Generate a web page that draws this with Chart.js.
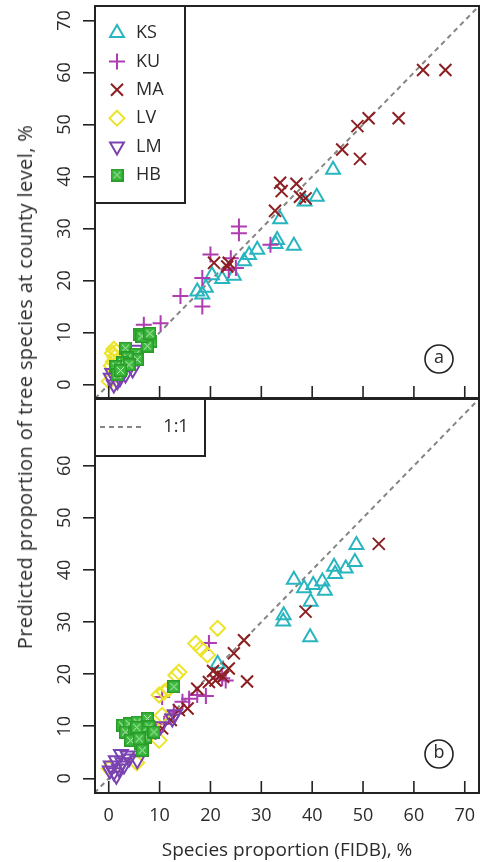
<!DOCTYPE html>
<html>
<head>
<meta charset="utf-8">
<script src="https://cdn.jsdelivr.net/npm/chart.js@4.4.1/dist/chart.umd.min.js"></script>
<style>
  html, body { margin: 0; padding: 0; background: #fff; }
  #wrap { position: relative; width: 480px; height: 862px; overflow: hidden; }
  #ca { position: absolute; left: 0; top: 0; }
  #cb { position: absolute; left: 0; top: 398px; }
  #ytitle {
    position: absolute; left: 25px; top: 387px;
    transform: translate(-50%, -50%) rotate(-90deg);
    white-space: nowrap; font: 20px "Open Sans"; letter-spacing: 0.4px; line-height: 20px; color: #2b2b2b;
  }
</style>
</head>
<body>
<div id="wrap">
  <canvas id="ca" width="480" height="400"></canvas>
  <canvas id="cb" width="480" height="464"></canvas>
  <div id="ytitle">Predicted proportion of tree species at county level, %</div>
</div>
<script>
// tick labels
var xTicks = [0, 10, 20, 30, 40, 50, 60, 70];
var yTicksA = [0, 10, 20, 30, 40, 50, 60, 70];
var yTicksB = [0, 10, 20, 30, 40, 50, 60];

// panel (a): [FIDB %, predicted %]
var KS_A = [[44.1,41.3],[40.9,36.1],[38.5,35.2],[33.7,31.8],[33.1,27.8],[32.8,27.0],[36.4,26.7],[29.2,25.9],
  [27.6,24.9],[26.6,23.7],[24.6,20.9],[22.3,20.3],[20.3,21.0],[19.1,18.6],[17.4,17.9],[18.4,17.3]];
var KU_A = [[25.6,30.4],[25.6,29.1],[20.0,25.0],[24.0,24.3],[18.4,20.5],[14.1,17.0],[18.4,15.0],[25.0,22.4],
  [31.8,26.9],[10.2,11.8],[6.9,11.5],[23.6,22.0]];
var MA_A = [[61.8,60.5],[66.2,60.5],[48.9,49.7],[51.1,51.2],[57.0,51.2],[45.9,45.2],[49.4,43.4],[33.7,38.8],
  [34.0,37.2],[36.9,38.6],[37.6,36.1],[38.7,35.8],[32.7,33.4],[20.7,23.4],[23.3,22.7],[23.6,23.4]];
var LV_A = [[1.0,6.8],[0.7,6.0],[1.2,5.3],[0.9,4.4],[1.5,6.3],[0.1,0.6],[0.5,3.6]];
var LM_A = [[0.4,1.3],[1.0,0.0],[1.7,0.6],[3.3,1.9],[4.7,2.9],[0.7,2.2],[5.3,6.7],[2.2,1.2],[3.0,3.0]];
var HB_A = [[6.0,9.6],[7.9,9.0],[8.3,8.3],[7.6,7.4],[3.3,7.0],[5.3,5.8],[5.6,4.8],[3.7,5.1],[2.7,4.2],
  [1.4,3.5],[4.0,3.8],[1.7,1.9],[6.5,9.3],[8.1,9.8],[2.3,2.7]];

// panel (b)
var KS_B = [[48.7,44.8],[48.4,41.5],[46.6,40.3],[44.3,40.6],[44.5,39.2],[42.0,37.8],[42.5,36.0],[40.2,37.1],
  [38.4,36.5],[36.4,38.1],[39.7,33.9],[34.4,31.3],[34.3,30.1],[39.6,27.1],[21.4,22.0]];
var KU_B = [[19.7,26.0],[23.0,18.8],[22.3,19.2],[17.4,16.0],[15.8,15.3],[19.1,15.8],[12.8,12.8],[10.9,10.5],
  [9.2,8.9],[10.5,15.6],[14.5,14.7]];
var MA_B = [[53.1,45.0],[38.7,32.0],[26.6,26.5],[24.6,24.0],[23.6,21.1],[27.2,18.6],[21.4,20.1],[21.0,18.8],
  [19.7,18.5],[17.4,17.2],[15.5,13.4],[13.8,13.1],[12.2,11.2],[10.5,9.6],[20.5,20.6],[22.5,19.5]];
var LV_B = [[21.4,28.8],[17.1,25.9],[18.1,24.9],[19.4,23.7],[13.8,20.4],[13.2,19.8],[9.9,16.0],[10.9,16.6],
  [9.9,7.3],[10.5,12.1],[5.5,3.0],[0.1,1.9],[11.8,17.2],[8.5,10.2]];
var LM_B = [[2.4,4.7],[3.7,4.4],[1.4,3.5],[0.4,2.5],[1.0,1.2],[2.0,1.9],[0.2,1.5],[2.7,3.1],[4.0,3.8],
  [5.6,3.5],[12.5,11.5],[13.0,12.3],[1.5,0.5],[3.0,2.5],[10.2,10.0]];
var HB_B = [[2.7,10.2],[4.0,10.5],[5.6,10.8],[7.6,11.5],[7.9,9.9],[3.3,8.9],[5.0,8.6],[6.6,8.9],[4.3,7.3],
  [6.3,6.7],[6.6,5.4],[7.3,7.9],[8.9,8.9],[12.8,17.6],[5.5,9.8],[6.0,7.6]];

var X_MIN = -2.7, X_MAX = 72.8;
var FONT = '"Open Sans", "DejaVu Sans", sans-serif';
var INK = '#2b2b2b';

function hbMarker() {
  var c = document.createElement('canvas');
  c.width = 13; c.height = 13;
  var g = c.getContext('2d');
  g.fillStyle = '#3dba3d';
  g.fillRect(0, 0, 13, 13);
  g.strokeStyle = '#2a9a2a'; g.lineWidth = 1.5;
  g.strokeRect(0.75, 0.75, 11.5, 11.5);
  g.strokeStyle = '#c4ecc4'; g.lineWidth = 1;
  g.beginPath();
  g.moveTo(3, 3); g.lineTo(10, 10); g.moveTo(10, 3); g.lineTo(3, 10);
  g.stroke();
  return c;
}
var HB_STYLE = hbMarker();

function pts(arr) { return arr.map(function (p) { return { x: p[0], y: p[1] }; }); }

function speciesSets(ks, ku, ma, lv, lm, hb) {
  var none = 'rgba(0,0,0,0)';
  return [
    { label: 'KS', data: pts(ks), pointStyle: 'triangle', pointRadius: 8, borderColor: '#29b5bf', backgroundColor: none, borderWidth: 2, order: 6 },
    { label: 'KU', data: pts(ku), pointStyle: 'cross', pointRadius: 8, borderColor: '#b03cb2', backgroundColor: none, borderWidth: 2, order: 5 },
    { label: 'MA', data: pts(ma), pointStyle: 'crossRot', pointRadius: 8.5, borderColor: '#8c1f22', backgroundColor: none, borderWidth: 2, order: 4 },
    { label: 'LV', data: pts(lv), pointStyle: 'rectRot', pointRadius: 7.5, borderColor: '#ece42a', backgroundColor: none, borderWidth: 2, order: 3 },
    { label: 'LM', data: pts(lm), pointStyle: 'triangle', pointRotation: 180, pointRadius: 8, borderColor: '#7b42b2', backgroundColor: none, borderWidth: 2, order: 2 },
    { label: 'HB', data: pts(hb), pointStyle: HB_STYLE, pointRadius: 7, borderColor: '#3dba3d', backgroundColor: '#3dba3d', borderWidth: 1, order: 1 }
  ];
}

function diagonal(ymin) {
  var lo = Math.min(X_MIN, ymin);
  return {
    label: '1:1', data: [{ x: lo, y: lo }, { x: X_MAX, y: X_MAX }],
    showLine: true, pointRadius: 0, borderColor: '#858585', borderWidth: 2, borderDash: [5, 4], order: 10, isRef: true
  };
}

// frame, inward x ticks, panel letter, in-plot legend
var decor = {
  id: 'decor',
  afterDatasetsDraw: function (chart, args, o) {
    var ctx = chart.ctx, a = chart.chartArea, x = chart.scales.x;
    ctx.save();
    ctx.strokeStyle = '#222';
    ctx.lineWidth = 2;
    ctx.strokeRect(a.left, a.top, a.right - a.left, a.bottom - a.top);
    ctx.lineWidth = 1.6;
    xTicks.forEach(function (v) {
      var px = x.getPixelForValue(v);
      ctx.beginPath(); ctx.moveTo(px, a.bottom); ctx.lineTo(px, a.bottom - 12); ctx.stroke();
    });
    // panel letter
    var cx = a.right - 40, cy = a.bottom - 39;
    ctx.lineWidth = 1.6;
    ctx.beginPath(); ctx.arc(cx, cy, 14, 0, Math.PI * 2); ctx.stroke();
    ctx.fillStyle = INK;
    ctx.font = '18px ' + FONT;
    ctx.textAlign = 'center'; ctx.textBaseline = 'middle';
    ctx.fillText(o.letter, cx, cy - 1);

    // legend box
    var L = o.legend;
    ctx.fillStyle = '#fff';
    ctx.fillRect(a.left, a.top, L.w, L.h);
    ctx.strokeStyle = '#222'; ctx.lineWidth = 2;
    ctx.strokeRect(a.left, a.top, L.w, L.h);
    var sets = chart.data.datasets.filter(function (d) { return L.ref ? d.isRef : !d.isRef; });
    sets.forEach(function (d, i) {
      var y = a.top + L.y0 + i * L.dy;
      if (d.isRef) {
        ctx.strokeStyle = d.borderColor; ctx.lineWidth = d.borderWidth;
        ctx.setLineDash(d.borderDash);
        ctx.beginPath(); ctx.moveTo(a.left + 5, y); ctx.lineTo(a.left + 46, y); ctx.stroke();
        ctx.setLineDash([]);
        ctx.fillStyle = INK; ctx.textAlign = 'center';
        ctx.fillText(d.label, a.left + 81, y);
      } else {
        ctx.strokeStyle = d.borderColor; ctx.fillStyle = d.backgroundColor;
        ctx.lineWidth = d.borderWidth;
        Chart.helpers.drawPoint(ctx, { pointStyle: d.pointStyle, rotation: d.pointRotation || 0, radius: d.pointRadius, borderWidth: d.borderWidth }, a.left + 22, y);
        ctx.fillStyle = INK; ctx.textAlign = 'left';
        ctx.fillText(d.label, a.left + 41, y);
      }
    });
    ctx.restore();
  }
};

function yScale(min, max, ticks) {
  return {
    type: 'linear', position: 'left', min: min, max: max,
    afterBuildTicks: function (s) { s.ticks = ticks.map(function (v) { return { value: v }; }); },
    ticks: { minRotation: 90, maxRotation: 90, crossAlign: 'center', padding: 8, color: INK, font: { family: FONT, size: 18 } },
    grid: { drawOnChartArea: false, drawTicks: true, tickLength: 12, color: '#222', lineWidth: 1.6 },
    border: { display: true, color: '#222', width: 2 },
    afterFit: function (s) { s.width = 95; s.paddingTop = 0; s.paddingBottom = 0; }
  };
}

function xScale(show) {
  return {
    type: 'linear', position: 'bottom', min: X_MIN, max: X_MAX, display: show,
    afterBuildTicks: function (s) { s.ticks = xTicks.map(function (v) { return { value: v }; }); },
    ticks: { padding: 12, maxRotation: 0, color: INK, font: { family: FONT, size: 18 } },
    grid: { drawOnChartArea: false, drawTicks: false },
    border: { display: false },
    title: { display: show, text: 'Species proportion (FIDB), %', color: INK, font: { family: FONT, size: 19 }, padding: { top: 0, bottom: 0 } },
    afterFit: function (s) { s.height = show ? 69 : 0; s.paddingLeft = 0; s.paddingRight = 0; }
  };
}

var chartA = new Chart(document.getElementById('ca'), {
  type: 'scatter',
  data: { datasets: speciesSets(KS_A, KU_A, MA_A, LV_A, LM_A, HB_A).concat([diagonal(-2.6)]) },
  options: {
    responsive: false, animation: false,
    layout: { autoPadding: false, padding: { top: 6, right: 1, bottom: 2, left: 0 } },
    scales: { x: xScale(false), y: yScale(-2.6, 72.8, yTicksA) },
    plugins: { legend: { display: false }, tooltip: { enabled: false },
      decor: { letter: 'a', legend: { w: 90, h: 197, y0: 27, dy: 28.4, ref: false } } }
  },
  plugins: [decor]
});

var chartB = new Chart(document.getElementById('cb'), {
  type: 'scatter',
  data: { datasets: speciesSets(KS_B, KU_B, MA_B, LV_B, LM_B, HB_B).concat([diagonal(-2.8)]) },
  options: {
    responsive: false, animation: false,
    layout: { autoPadding: false, padding: { top: 1, right: 1, bottom: 0, left: 0 } },
    scales: { x: xScale(true), y: yScale(-2.8, 72.8, yTicksB) },
    plugins: { legend: { display: false }, tooltip: { enabled: false },
      decor: { letter: 'b', legend: { w: 110, h: 57, y0: 28, dy: 0, ref: true } } }
  },
  plugins: [decor]
});
</script>
</body>
</html>
